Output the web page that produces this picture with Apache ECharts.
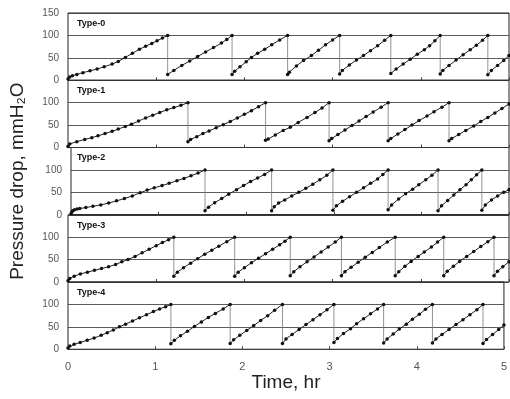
<!DOCTYPE html>
<html>
<head>
<meta charset="utf-8">
<script src="https://cdn.jsdelivr.net/npm/echarts@6/dist/echarts.min.js"></script>
<style>
  html, body { margin: 0; padding: 0; background: #fff; }
  #chart { width: 510px; height: 399px; }
</style>
</head>
<body>
<div id="chart"></div>
<script>
// panel names
var typeNames = ['Type-0', 'Type-1', 'Type-2', 'Type-3', 'Type-4']

// each filtration cycle: [time hr, pressure drop mmH2O]
var type0 = [
  [[0,3],[0.02,7],[0.05,10],[0.1,13],[0.17,17],[0.25,21],[0.33,25],[0.41,30],[0.5,36],[0.57,42],[0.65,51],[0.73,60],[0.81,69],[0.88,76],[0.95,82],[1.01,88],[1.07,94],[1.13,100]],
  [[1.13,13],[1.2,22],[1.29,33],[1.38,43],[1.47,53],[1.56,63],[1.65,73],[1.74,83],[1.8,91],[1.86,100]],
  [[1.86,13],[1.89,20],[1.95,30],[2.02,41],[2.08,51],[2.15,60],[2.23,69],[2.31,79],[2.4,90],[2.49,100]],
  [[2.49,13],[2.51,18],[2.59,32],[2.67,44],[2.76,55],[2.84,67],[2.92,79],[3.0,90],[3.08,100]],
  [[3.08,14],[3.11,22],[3.19,34],[3.27,45],[3.35,55],[3.43,66],[3.51,77],[3.59,89],[3.66,100]],
  [[3.66,15],[3.72,25],[3.8,36],[3.88,47],[3.96,58],[4.04,68],[4.1,77],[4.16,88],[4.22,100]],
  [[4.22,14],[4.25,22],[4.32,33],[4.4,45],[4.48,57],[4.56,68],[4.63,78],[4.7,89],[4.76,100]],
  [[4.76,12],[4.8,22],[4.87,33],[4.94,44],[5.0,55]]
]
var type1 = [
  [[0,2],[0.02,8],[0.1,13],[0.19,18],[0.27,22],[0.34,26],[0.42,31],[0.5,36],[0.57,41],[0.65,47],[0.72,52],[0.8,59],[0.88,66],[0.96,72],[1.04,78],[1.12,84],[1.2,89],[1.28,94],[1.36,100]],
  [[1.36,13],[1.39,18],[1.46,24],[1.53,31],[1.6,37],[1.68,44],[1.76,51],[1.84,58],[1.92,66],[2.0,74],[2.08,82],[2.16,91],[2.24,100]],
  [[2.24,16],[2.27,19],[2.35,28],[2.44,38],[2.52,45],[2.61,56],[2.71,67],[2.8,78],[2.88,88],[2.96,100]],
  [[2.96,15],[2.99,20],[3.06,29],[3.14,39],[3.22,49],[3.3,59],[3.38,69],[3.46,79],[3.55,90],[3.63,100]],
  [[3.63,15],[3.66,20],[3.74,30],[3.82,40],[3.9,50],[3.98,60],[4.07,70],[4.15,80],[4.24,90],[4.32,100]],
  [[4.32,15],[4.35,20],[4.43,29],[4.51,38],[4.6,48],[4.68,58],[4.76,67],[4.84,77],[4.92,87],[5.0,97]]
]
var type2 = [
  [[0,2],[0.01,6],[0.02,9],[0.04,11],[0.07,13],[0.1,14],[0.17,16],[0.25,19],[0.34,22],[0.43,26],[0.52,31],[0.61,36],[0.7,42],[0.79,49],[0.87,55],[0.95,60],[1.04,65],[1.12,70],[1.21,76],[1.29,81],[1.37,87],[1.45,93],[1.53,100]],
  [[1.53,9],[1.57,17],[1.64,27],[1.72,36],[1.8,46],[1.89,56],[1.97,65],[2.05,74],[2.13,82],[2.21,90],[2.29,100]],
  [[2.29,9],[2.32,18],[2.37,26],[2.44,33],[2.52,42],[2.6,50],[2.68,59],[2.76,68],[2.84,78],[2.92,88],[2.99,100]],
  [[2.99,10],[3.03,20],[3.1,30],[3.18,40],[3.26,50],[3.34,60],[3.42,70],[3.5,80],[3.56,90],[3.62,100]],
  [[3.62,11],[3.66,22],[3.74,35],[3.82,47],[3.9,57],[3.97,67],[4.05,78],[4.12,88],[4.19,100]],
  [[4.19,9],[4.23,20],[4.3,32],[4.37,44],[4.44,56],[4.51,67],[4.57,78],[4.63,89],[4.69,100]],
  [[4.69,10],[4.73,22],[4.8,33],[4.87,42],[4.94,50],[5.0,56]]
]
var type3 = [
  [[0,3],[0.02,8],[0.07,13],[0.14,18],[0.22,22],[0.3,26],[0.38,30],[0.46,34],[0.54,39],[0.61,45],[0.68,50],[0.76,57],[0.84,65],[0.92,73],[1.0,81],[1.07,88],[1.14,94],[1.2,100]],
  [[1.2,13],[1.24,22],[1.31,32],[1.39,42],[1.47,52],[1.55,62],[1.63,71],[1.71,80],[1.8,90],[1.89,100]],
  [[1.89,13],[1.93,22],[2.0,32],[2.08,43],[2.16,53],[2.24,63],[2.32,73],[2.4,83],[2.46,91],[2.52,100]],
  [[2.52,14],[2.56,23],[2.63,34],[2.71,45],[2.79,56],[2.87,67],[2.95,78],[3.03,89],[3.1,100]],
  [[3.1,14],[3.14,23],[3.21,33],[3.29,44],[3.37,55],[3.45,66],[3.53,77],[3.62,89],[3.71,100]],
  [[3.71,14],[3.75,23],[3.82,35],[3.89,46],[3.97,57],[4.04,67],[4.12,78],[4.19,89],[4.26,100]],
  [[4.26,14],[4.3,24],[4.37,35],[4.44,46],[4.52,57],[4.6,68],[4.68,79],[4.76,90],[4.83,100]],
  [[4.83,14],[4.87,24],[4.93,34],[5.0,45]]
]
var type4 = [
  [[0,3],[0.02,7],[0.07,11],[0.14,15],[0.22,20],[0.3,25],[0.38,31],[0.45,37],[0.52,43],[0.59,50],[0.66,56],[0.74,63],[0.82,70],[0.9,77],[0.98,84],[1.05,90],[1.12,95],[1.18,100]],
  [[1.18,12],[1.22,20],[1.29,30],[1.37,40],[1.45,51],[1.53,61],[1.61,71],[1.69,80],[1.78,90],[1.86,100]],
  [[1.86,13],[1.9,21],[1.97,31],[2.05,42],[2.13,53],[2.21,64],[2.29,75],[2.37,87],[2.46,100]],
  [[2.46,13],[2.5,23],[2.57,33],[2.65,44],[2.73,55],[2.81,66],[2.89,77],[2.97,88],[3.05,100]],
  [[3.05,15],[3.09,24],[3.16,35],[3.24,46],[3.31,57],[3.39,68],[3.47,79],[3.55,90],[3.62,100]],
  [[3.62,14],[3.66,23],[3.73,34],[3.8,45],[3.88,56],[3.95,67],[4.03,78],[4.1,89],[4.18,100]],
  [[4.18,14],[4.22,23],[4.29,33],[4.37,44],[4.45,55],[4.53,66],[4.61,77],[4.69,88],[4.76,100]],
  [[4.76,13],[4.8,22],[4.87,33],[4.94,44],[5.0,54]]
]
var allTypes = [type0, type1, type2, type3, type4]

var yTicks = [0, 50, 100, 150]
var xTicks = [0, 1, 2, 3, 4, 5]

function buildOption() {
  var panelTop = 13, panelH = 67.25
  var grids = [], xAxes = [], yAxes = [], series = [], graphics = []
  var font = 'Liberation Sans'

  for (var k = 0; k < 5; k++) {
    var py = panelTop + panelH * k
    grids.push({ left: 68, top: py, width: 441, height: panelH, show: true, borderColor: '#222', borderWidth: 1 })
    xAxes.push({
      type: 'value', gridIndex: k, min: xTicks[0], max: xTicks[xTicks.length - 1], interval: 1,
      axisLine: { show: false },
      axisTick: { show: true, inside: true, length: 3, lineStyle: { color: '#444' } },
      splitLine: { show: false },
      axisLabel: { show: k === 4, color: '#555', fontSize: 11, fontFamily: font, margin: 12 },
      name: k === 4 ? 'Time, hr' : '', nameLocation: 'middle', nameGap: 23,
      nameTextStyle: { color: '#222', fontSize: 19, fontFamily: font }
    })
    yAxes.push({
      type: 'value', gridIndex: k, min: yTicks[0], max: yTicks[yTicks.length - 1], interval: 50,
      axisLine: { show: false }, axisTick: { show: false },
      splitLine: { show: true, lineStyle: { color: '#333', width: 0.8 } },
      axisLabel: { color: '#555', fontSize: 10, fontFamily: font, margin: 9, showMaxLabel: k === 0 },
      name: k === 2 ? 'Pressure drop, mmH₂O' : '', nameLocation: 'middle', nameGap: 44, nameRotate: 90,
      nameTextStyle: { color: '#222', fontSize: 19, fontFamily: font }
    })
    graphics.push({
      type: 'text', left: 77, top: py + 6,
      style: { text: typeNames[k], fontSize: 9, fontWeight: 'bold', fontFamily: font, fill: '#111' }
    })
    var cycles = allTypes[k]
    for (var c = 0; c < cycles.length; c++) {
      series.push({
        type: 'line', xAxisIndex: k, yAxisIndex: k, data: cycles[c],
        symbol: 'circle', symbolSize: 3.5, silent: true,
        itemStyle: { color: '#111' }, lineStyle: { color: '#222', width: 1 }
      })
      if (c > 0) {
        var prev = cycles[c - 1][cycles[c - 1].length - 1]
        var first = cycles[c][0]
        series.push({
          type: 'line', xAxisIndex: k, yAxisIndex: k, data: [prev.slice(), first.slice()],
          symbol: 'none', silent: true,
          lineStyle: { color: '#777', width: 0.8 }
        })
      }
    }
  }
  return {
    animation: false,
    grid: grids,
    xAxis: xAxes,
    yAxis: yAxes,
    graphic: graphics,
    series: series
  }
}

var chart = echarts.init(document.getElementById('chart'))
chart.setOption(buildOption())
</script>
</body>
</html>
